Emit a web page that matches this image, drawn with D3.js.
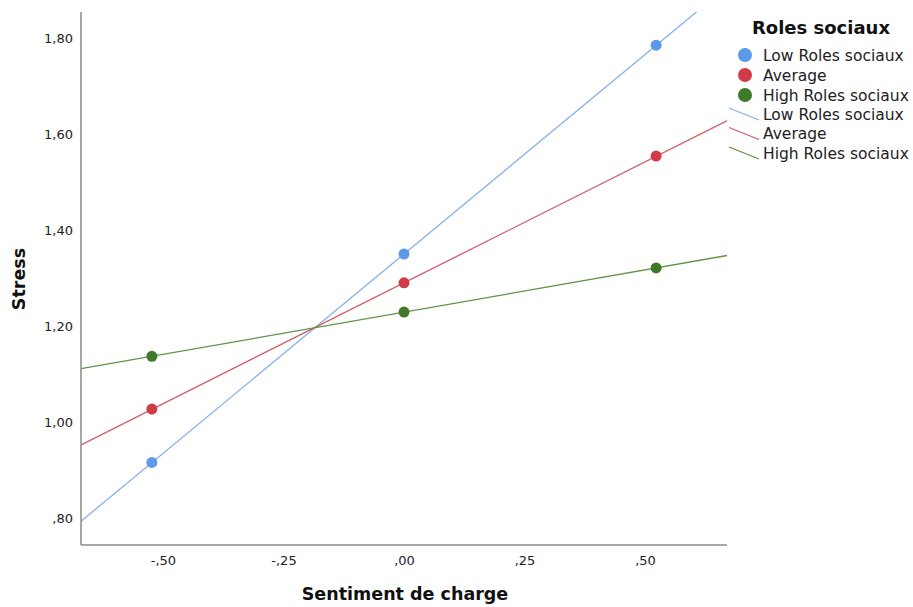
<!DOCTYPE html>
<html><head><meta charset="utf-8">
<script src="https://cdn.jsdelivr.net/npm/d3@7"></script>
<style>body{margin:0;background:#fff}svg{display:block}text{font-family:"DejaVu Sans",sans-serif}</style>
</head><body>
<svg id="c" width="913" height="607"></svg>
<script>
const xPoints = [-0.523, 0, 0.523];
const seriesNames = ["Low Roles sociaux", "Average", "High Roles sociaux"];
const lowValues = [0.916, 1.350, 1.785];
const avgValues = [1.027, 1.290, 1.554];
const highValues = [1.137, 1.229, 1.321];
const xTicks = [-0.50, -0.25, 0.00, 0.25, 0.50];
const xTickLabels = ["-,50", "-,25", ",00", ",25", ",50"];
const yTicks = [0.80, 1.00, 1.20, 1.40, 1.60, 1.80];
const yTickLabels = [",80", "1,00", "1,20", "1,40", "1,60", "1,80"];
const pointColors = ["#5b9ae8", "#cf3c47", "#3f7a29"];
const lineColors = ["#86b1ea", "#d65a63", "#5f9447"];

const svg = d3.select("#c");
const L = 81, R = 727, T = 12, B = 545;
const x = d3.scaleLinear().domain([-0.670, 0.670]).range([L, R]);
const y = d3.scaleLinear().domain([0.744, 1.854]).range([B, T]);

svg.append("defs").append("clipPath").attr("id","clip")
  .append("rect").attr("x",L).attr("y",T).attr("width",R-L).attr("height",B-T);

const series = [lowValues, avgValues, highValues];
const g = svg.append("g").attr("clip-path","url(#clip)");
series.forEach((vals, i) => {
  const slope = (vals[2]-vals[0])/(xPoints[2]-xPoints[0]);
  const icpt = vals[1] - slope*xPoints[1];
  const ext = [-0.8, 0.8].map(v => [v, icpt + slope*v]);
  g.append("line")
    .attr("x1", x(ext[0][0])).attr("y1", y(ext[0][1]))
    .attr("x2", x(ext[1][0])).attr("y2", y(ext[1][1]))
    .attr("stroke", lineColors[i]).attr("stroke-width", 1.3);
});
series.forEach((vals, i) => {
  g.selectAll(null).data(vals).enter().append("circle")
    .attr("cx", (d,j) => x(xPoints[j])).attr("cy", d => y(d))
    .attr("r", 5.5).attr("fill", pointColors[i]);
});

// axes
const yAxis = d3.axisLeft(y).tickValues(yTicks).tickSize(0).tickPadding(8)
  .tickFormat((d,i) => yTickLabels[i]);
const yg = svg.append("g").attr("transform",`translate(${L},0)`).call(yAxis);
const xAxis = d3.axisBottom(x).tickValues(xTicks).tickSize(0).tickPadding(11)
  .tickFormat((d,i) => xTickLabels[i]);
const xg = svg.append("g").attr("transform",`translate(0,${B})`).call(xAxis);
[yg, xg].forEach(a => {
  a.select(".domain").attr("stroke","#8a8a8a").attr("stroke-width",1.5);
  a.selectAll("text").attr("font-size",13).attr("fill","#222")
   .style("font-family","'DejaVu Sans',sans-serif");
});
yg.select(".domain").attr("d", `M0,${T}V${B}`);
xg.select(".domain").attr("d", `M${L},0H${R}`);

svg.append("text").attr("x", 405).attr("y", 600).attr("text-anchor","middle")
  .attr("font-size",17.5).attr("font-weight","bold").attr("fill","#111").text("Sentiment de charge");
svg.append("text").attr("transform","translate(25,279) rotate(-90)").attr("text-anchor","middle")
  .attr("font-size",17.5).attr("font-weight","bold").attr("fill","#111").text("Stress");

// legend
const lg = svg.append("g");
lg.append("text").attr("x",821).attr("y",34).attr("text-anchor","middle")
  .attr("font-size",18).attr("font-weight","bold").attr("fill","#111").text("Roles sociaux");
seriesNames.forEach((n,i) => {
  const cy = 55 + i*20;
  lg.append("circle").attr("cx",745).attr("cy",cy).attr("r",7).attr("fill",pointColors[i]);
  lg.append("text").attr("x",763).attr("y",cy+5.5).attr("font-size",15.5).attr("fill","#222").text(n);
});
seriesNames.forEach((n,i) => {
  const cy = 114 + i*19.5;
  lg.append("line").attr("x1",729).attr("y1",cy-6).attr("x2",759).attr("y2",cy+6)
    .attr("stroke",lineColors[i]).attr("stroke-width",1.3);
  lg.append("text").attr("x",763).attr("y",cy+5.5).attr("font-size",15.5).attr("fill","#222").text(n);
});
</script>
</body></html>
